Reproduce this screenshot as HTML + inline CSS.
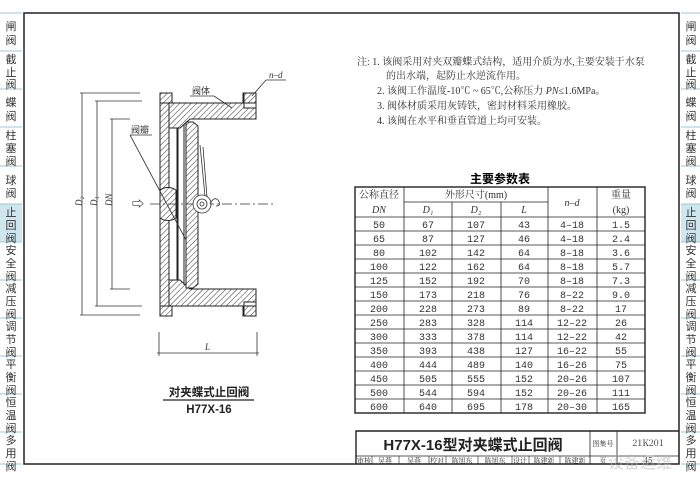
<!DOCTYPE html>
<html><head><meta charset="utf-8"><style>
body{margin:0;width:700px;height:493px;background:#fff;overflow:hidden;font-family:"Liberation Serif","Noto Serif CJK SC",serif;color:#222}
svg{position:absolute;left:0;top:0}
</style></head><body>
<svg width="700" height="493" viewBox="0 0 700 493" xmlns="http://www.w3.org/2000/svg">
<defs>
<pattern id="h" width="4" height="4" patternUnits="userSpaceOnUse" patternTransform="rotate(45)">
<rect width="4" height="4" fill="#fff"/><line x1="0" y1="0" x2="0" y2="4" stroke="#333" stroke-width="1"/></pattern>
</defs>
<!-- sidebars -->
<rect x="0" y="204" width="22" height="38" fill="#cfe6ef"/>
<rect x="681" y="204" width="19" height="38" fill="#cfe6ef"/>
<g stroke="#9cc7d8" stroke-width="1">
<line x1="0" y1="13" x2="22" y2="13"/><line x1="0" y1="51" x2="22" y2="51"/><line x1="0" y1="89" x2="22" y2="89"/><line x1="0" y1="127" x2="22" y2="127"/><line x1="0" y1="166" x2="22" y2="166"/><line x1="0" y1="204" x2="22" y2="204"/><line x1="0" y1="242" x2="22" y2="242"/><line x1="0" y1="280" x2="22" y2="280"/><line x1="0" y1="318" x2="22" y2="318"/><line x1="0" y1="356" x2="22" y2="356"/><line x1="0" y1="394" x2="22" y2="394"/><line x1="0" y1="432" x2="22" y2="432"/><line x1="0" y1="464" x2="22" y2="464"/>
<line x1="681" y1="13" x2="700" y2="13"/><line x1="681" y1="51" x2="700" y2="51"/><line x1="681" y1="89" x2="700" y2="89"/><line x1="681" y1="127" x2="700" y2="127"/><line x1="681" y1="166" x2="700" y2="166"/><line x1="681" y1="204" x2="700" y2="204"/><line x1="681" y1="242" x2="700" y2="242"/><line x1="681" y1="280" x2="700" y2="280"/><line x1="681" y1="318" x2="700" y2="318"/><line x1="681" y1="356" x2="700" y2="356"/><line x1="681" y1="394" x2="700" y2="394"/><line x1="681" y1="432" x2="700" y2="432"/><line x1="681" y1="464" x2="700" y2="464"/>
</g>
<g font-family="'Noto Sans CJK SC',sans-serif" font-size="11" fill="#333" text-anchor="middle">
<g id="sb">
<text x="11" y="30">闸</text><text x="11" y="44">阀</text>
<text x="11" y="63">截</text><text x="11" y="76">止</text><text x="11" y="88">阀</text>
<text x="11" y="106">蝶</text><text x="11" y="120">阀</text>
<text x="11" y="139">柱</text><text x="11" y="152">塞</text><text x="11" y="165">阀</text>
<text x="11" y="184">球</text><text x="11" y="197">阀</text>
<text x="11" y="216">止</text><text x="11" y="229">回</text><text x="11" y="242">阀</text>
<text x="11" y="254">安</text><text x="11" y="267">全</text><text x="11" y="280">阀</text>
<text x="11" y="292">减</text><text x="11" y="305">压</text><text x="11" y="318">阀</text>
<text x="11" y="330">调</text><text x="11" y="343">节</text><text x="11" y="356">阀</text>
<text x="11" y="368">平</text><text x="11" y="381">衡</text><text x="11" y="394">阀</text>
<text x="11" y="406">恒</text><text x="11" y="419">温</text><text x="11" y="432">阀</text>
<text x="11" y="444">多</text><text x="11" y="457">用</text><text x="11" y="470">阀</text>
</g>
<use href="#sb" x="680"/>
</g>
<!-- main frame -->
<rect x="24" y="13" width="655" height="451" fill="none" stroke="#222" stroke-width="1.5"/>

<!-- drawing -->
<g stroke="#222" stroke-width="1" fill="url(#h)">
<path d="M160 93 H172 V108 H256 V93 H243 V108 M256 93 V119 H177 V289 H256 V316 H243 V302 M160 93 V316 H172 V302 H256" fill="none"/>
<rect x="160" y="93" width="12" height="10"/>
<rect x="244" y="93" width="12" height="10"/>
<rect x="160" y="306" width="12" height="10"/>
<rect x="244" y="306" width="12" height="10"/>
<path d="M172 103 H244 V108 H256 V119 H190 L180 128 H169 V103 Z"/>
<path d="M172 306 H244 V302 H256 V289 H190 L180 280 H169 V306 Z"/>
<rect x="160" y="103" width="9" height="203"/>
<path d="M169 128 V280 M178 128 V280 M184 124 V285" fill="none"/>
<path d="M160 190 A14 14 0 0 1 176 190 V218 A14 14 0 0 1 160 218 Z"/>
<path d="M186 122 H193 L198 126 V284 L193 288 H186 Z"/>
</g>
<g fill="none" stroke="#333" stroke-width="0.8">
<line x1="150" y1="204" x2="275" y2="204" stroke-dasharray="10 3 2 3"/>
<circle cx="202" cy="204" r="9" fill="#fff"/><circle cx="202" cy="204" r="5"/><circle cx="202" cy="204" r="2"/>
<path d="M205 196 L200 145 M207 197 L203 147 M210 204 Q214 196 218 200 Q222 206 216 206"/>
<path d="M198 213 V225"/>
<!-- dims -->
<line x1="82" y1="93" x2="82" y2="315"/><line x1="97" y1="101" x2="97" y2="306"/><line x1="112" y1="119" x2="112" y2="289"/>
<line x1="80" y1="93" x2="140" y2="93"/><line x1="80" y1="315" x2="140" y2="315"/>
<line x1="95" y1="101" x2="142" y2="101"/><line x1="95" y1="306" x2="142" y2="306"/>
<line x1="110" y1="119" x2="130" y2="119"/><line x1="110" y1="289" x2="130" y2="289"/>
<line x1="159" y1="332" x2="159" y2="356"/><line x1="257" y1="332" x2="257" y2="356"/>
<line x1="157" y1="353" x2="259" y2="353"/>
<line x1="130" y1="135" x2="186" y2="240"/><line x1="130" y1="135" x2="152" y2="135"/>
<line x1="190" y1="96" x2="214" y2="96"/><line x1="214" y1="96" x2="232" y2="108"/>
<line x1="266" y1="80" x2="286" y2="80"/><line x1="266" y1="80" x2="252" y2="96"/>
<line x1="163" y1="400" x2="254" y2="400" stroke="#222" stroke-width="1.2"/>
</g>
<text x="138" y="208" font-size="12" text-anchor="middle">⇨</text>
<g font-size="9" font-style="italic" fill="#333">
<text x="78" y="210" transform="rotate(-90 78 206)">D₂</text>
<text x="93" y="210" transform="rotate(-90 93 206)">D₁</text>
<text x="108" y="210" transform="rotate(-90 108 206)">DN</text>
<text x="205" y="350">L</text>
<text x="269" y="78">n–d</text>
</g>
<g font-family="'Noto Sans CJK SC',sans-serif" font-size="9" fill="#333">
<text x="192" y="94">阀体</text><text x="131" y="133">阀瓣</text>
</g>
<g font-family="'Liberation Sans','Noto Sans CJK SC',sans-serif" font-size="11.5" font-weight="bold" fill="#222" text-anchor="middle">
<text x="209" y="396">对夹蝶式止回阀</text><text x="209" y="413">H77X-16</text>
</g>

<!-- notes -->
<g font-family="'Liberation Serif','Noto Serif CJK SC',serif" font-size="10" fill="#333">
<text x="357" y="65">注: 1. 该阀采用对夹双瓣蝶式结构，适用介质为水,主要安装于水泵</text>
<text x="386" y="79">的出水端，起防止水逆流作用。</text>
<text x="377" y="94">2. 该阀工作温度-10℃ ~ 65℃,公称压力 <tspan font-style="italic">PN</tspan>≤1.6MPa。</text>
<text x="377" y="109">3. 阀体材质采用灰铸铁，密封材料采用橡胶。</text>
<text x="377" y="124">4. 该阀在水平和垂直管道上均可安装。</text>
</g>
<text x="500" y="183" font-family="'Noto Sans CJK SC',sans-serif" font-size="12" font-weight="bold" text-anchor="middle">主要参数表</text>

<!-- table -->
<g stroke="#222" fill="none">
<rect x="355" y="187" width="290" height="226" stroke-width="1.4"/>
<g stroke-width="0.8">
<line x1="404" y1="187" x2="404" y2="413"/><line x1="548" y1="187" x2="548" y2="413"/><line x1="597" y1="187" x2="597" y2="413"/>
<line x1="452" y1="202" x2="452" y2="413"/><line x1="501" y1="202" x2="501" y2="413"/>
<line x1="404" y1="202" x2="548" y2="202"/>
<line x1="355" y1="217" x2="645" y2="217"/>
<line x1="355" y1="231" x2="645" y2="231"/><line x1="355" y1="245" x2="645" y2="245"/><line x1="355" y1="259" x2="645" y2="259"/><line x1="355" y1="273" x2="645" y2="273"/><line x1="355" y1="287" x2="645" y2="287"/><line x1="355" y1="301" x2="645" y2="301"/><line x1="355" y1="315" x2="645" y2="315"/><line x1="355" y1="329" x2="645" y2="329"/><line x1="355" y1="343" x2="645" y2="343"/><line x1="355" y1="357" x2="645" y2="357"/><line x1="355" y1="371" x2="645" y2="371"/><line x1="355" y1="385" x2="645" y2="385"/><line x1="355" y1="399" x2="645" y2="399"/>
</g></g>
<g font-family="'Liberation Serif','Noto Serif CJK SC',serif" font-size="10" fill="#333" text-anchor="middle">
<text x="379" y="198">公称直径</text><text x="379" y="213" font-style="italic">DN</text>
<text x="476" y="198">外形尺寸(mm)</text>
<text x="428" y="213" font-style="italic">D₁</text><text x="476" y="213" font-style="italic">D₂</text><text x="524" y="213" font-style="italic">L</text>
<text x="572" y="206" font-style="italic">n–d</text>
<text x="621" y="198">重量</text><text x="621" y="213">(kg)</text>
</g>
<g font-family="'Liberation Mono',monospace" font-size="10" fill="#333" text-anchor="middle">
<g transform="translate(0,228)"><text x="379">50</text><text x="428">67</text><text x="476">107</text><text x="524">43</text><text x="572">4–18</text><text x="621">1.5</text></g>
<g transform="translate(0,242)"><text x="379">65</text><text x="428">87</text><text x="476">127</text><text x="524">46</text><text x="572">4–18</text><text x="621">2.4</text></g>
<g transform="translate(0,256)"><text x="379">80</text><text x="428">102</text><text x="476">142</text><text x="524">64</text><text x="572">8–18</text><text x="621">3.6</text></g>
<g transform="translate(0,270)"><text x="379">100</text><text x="428">122</text><text x="476">162</text><text x="524">64</text><text x="572">8–18</text><text x="621">5.7</text></g>
<g transform="translate(0,284)"><text x="379">125</text><text x="428">152</text><text x="476">192</text><text x="524">70</text><text x="572">8–18</text><text x="621">7.3</text></g>
<g transform="translate(0,298)"><text x="379">150</text><text x="428">173</text><text x="476">218</text><text x="524">76</text><text x="572">8–22</text><text x="621">9.0</text></g>
<g transform="translate(0,312)"><text x="379">200</text><text x="428">228</text><text x="476">273</text><text x="524">89</text><text x="572">8–22</text><text x="621">17</text></g>
<g transform="translate(0,326)"><text x="379">250</text><text x="428">283</text><text x="476">328</text><text x="524">114</text><text x="572">12–22</text><text x="621">26</text></g>
<g transform="translate(0,340)"><text x="379">300</text><text x="428">333</text><text x="476">378</text><text x="524">114</text><text x="572">12–22</text><text x="621">42</text></g>
<g transform="translate(0,354)"><text x="379">350</text><text x="428">393</text><text x="476">438</text><text x="524">127</text><text x="572">16–22</text><text x="621">55</text></g>
<g transform="translate(0,368)"><text x="379">400</text><text x="428">444</text><text x="476">489</text><text x="524">140</text><text x="572">16–26</text><text x="621">75</text></g>
<g transform="translate(0,382)"><text x="379">450</text><text x="428">505</text><text x="476">555</text><text x="524">152</text><text x="572">20–26</text><text x="621">107</text></g>
<g transform="translate(0,396)"><text x="379">500</text><text x="428">544</text><text x="476">594</text><text x="524">152</text><text x="572">20–26</text><text x="621">111</text></g>
<g transform="translate(0,410)"><text x="379">600</text><text x="428">640</text><text x="476">695</text><text x="524">178</text><text x="572">20–30</text><text x="621">165</text></g>
</g>

<!-- title block -->
<g stroke="#222" fill="none">
<path d="M356 464 V431 H679" stroke-width="1.4"/>
<line x1="356" y1="456" x2="679" y2="456" stroke-width="0.8"/>
<line x1="590" y1="431" x2="590" y2="464" stroke-width="0.8"/>
<line x1="617" y1="431" x2="617" y2="464" stroke-width="0.8"/>
<g stroke-width="0.6"><line x1="372" y1="456" x2="372" y2="464"/><line x1="399" y1="456" x2="399" y2="464"/><line x1="429" y1="456" x2="429" y2="464"/><line x1="446" y1="456" x2="446" y2="464"/><line x1="478" y1="456" x2="478" y2="464"/><line x1="512" y1="456" x2="512" y2="464"/><line x1="529" y1="456" x2="529" y2="464"/><line x1="560" y1="456" x2="560" y2="464"/></g>
</g>
<text x="473" y="450" font-family="'Liberation Sans','Noto Sans CJK SC',sans-serif" font-size="15" font-weight="bold" fill="#222" text-anchor="middle">H77X-16型对夹蝶式止回阀</text>
<g font-family="'Noto Serif CJK SC',serif" font-size="7" fill="#333" text-anchor="middle">
<text x="603" y="446">图集号</text><text x="648" y="446" font-size="9">21K201</text>
<text x="364" y="463">审核</text><text x="385" y="463">吴燕</text><text x="414" y="463">吴燕</text><text x="437" y="463">校对</text><text x="462" y="463">陈旭东</text><text x="495" y="463">陈旭东</text><text x="520" y="463">设计</text><text x="544" y="463">陈建新</text><text x="575" y="463">陈建新</text><text x="603" y="463">页</text><text x="648" y="463" font-size="8">45</text>
</g>
<text x="640" y="468" font-family="'Noto Sans CJK SC',sans-serif" font-size="16" fill="#bbb" fill-opacity="0.6" text-anchor="middle">设备运维</text>
</svg>
</body></html>
